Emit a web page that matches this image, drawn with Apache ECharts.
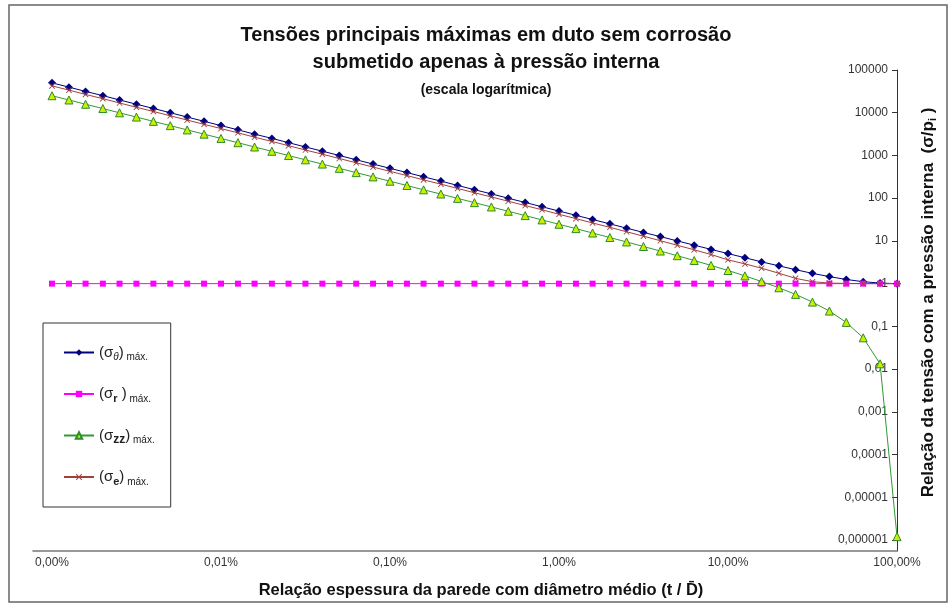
<!DOCTYPE html>
<html>
<head>
<meta charset="utf-8">
<script src="https://cdn.jsdelivr.net/npm/echarts@6/dist/echarts.min.js"></script>
<style>html,body{margin:0;padding:0;background:#fff}#c{width:950px;height:604px}</style>
</head>
<body>
<div id="c"></div>
<script>
// t/D (wall thickness / mean diameter)
const tD = [0.00001, 0.0000126, 0.0000158, 0.00002, 0.0000251, 0.0000316, 0.0000398, 0.0000501, 0.0000631, 0.0000794,
  0.0001, 0.000126, 0.000158, 0.0002, 0.000251, 0.000316, 0.000398, 0.000501, 0.000631, 0.000794,
  0.001, 0.00126, 0.00158, 0.002, 0.00251, 0.00316, 0.00398, 0.00501, 0.00631, 0.00794,
  0.01, 0.0126, 0.0158, 0.02, 0.0251, 0.0316, 0.0398, 0.0501, 0.0631, 0.0794,
  0.1, 0.126, 0.158, 0.2, 0.251, 0.316, 0.398, 0.501, 0.631, 0.794, 1];

const sigmaTheta = [50000, 39700, 31500, 25100, 19900, 15800, 12600, 9980, 7920, 6290,
  5000, 3970, 3150, 2510, 1990, 1580, 1260, 998, 792, 629,
  500, 397, 316, 251, 199, 158, 126, 99.8, 79.3, 62.9,
  50.0, 39.7, 31.6, 25.1, 19.9, 15.8, 12.6, 10.0, 7.96, 6.33,
  5.05, 4.04, 3.23, 2.61, 2.12, 1.74, 1.46, 1.25, 1.11, 1.03, 1.0];

const sigmaR = [1, 1, 1, 1, 1, 1, 1, 1, 1, 1,
  1, 1, 1, 1, 1, 1, 1, 1, 1, 1,
  1, 1, 1, 1, 1, 1, 1, 1, 1, 1,
  1, 1, 1, 1, 1, 1, 1, 1, 1, 1,
  1, 1, 1, 1, 1, 1, 1, 1, 1, 1, 1];

const sigmaZZ = [25000, 19860, 15770, 12530, 9950, 7910, 6280, 4990, 3960, 3150,
  2500, 1985, 1577, 1252, 995, 790, 628, 499, 396, 315,
  249.5, 198, 157, 125, 99.0, 78.6, 62.3, 49.4, 39.1, 31.0,
  24.5, 19.4, 15.3, 12.0, 9.46, 7.41, 5.79, 4.50, 3.48, 2.67,
  2.03, 1.52, 1.12, 0.80, 0.56, 0.37, 0.228, 0.124, 0.054, 0.0133, 0.0000012];

const sigmaE = [42500, 33800, 26800, 21300, 16900, 13400, 10700, 8480, 6730, 5350,
  4250, 3380, 2680, 2130, 1690, 1340, 1070, 848, 673, 535,
  425, 338, 268, 213, 169, 134, 107, 84.8, 67.3, 53.5,
  42, 33.2, 26.3, 20.8, 16.4, 12.9, 10.1, 7.9, 6.2, 4.8,
  3.6, 2.9, 2.3, 1.75, 1.33, 1.11, 1.03, 1.01, 1.0, 1.0, 1.0];

// axis tick values
const xTicks = [0.00001, 0.0001, 0.001, 0.01, 0.1, 1];
const yTicks = [0.000001, 0.00001, 0.0001, 0.001, 0.01, 0.1, 1, 10, 100, 1000, 10000, 100000];

const seriesNames = ['σθ', 'σr', 'σzz', 'σe'];
const legendRich = {
  'σθ': '{a|(σ}{b|θ}{a|)}{c| máx.}',
  'σr': '{a|(σ}{r|r}{a| )}{c| máx.}',
  'σzz': '{a|(σ}{z|zz}{a|)}{c| máx.}',
  'σe': '{a|(σ}{r|e}{a|)}{c| máx.}'
};

function pairs(ys) { return tD.map((x, i) => [x, ys[i]]); }
function isDecade(v) { const l = Math.log10(v); return Math.abs(l - Math.round(l)) < 0.01; }

const chart = echarts.init(document.getElementById('c'));
const FONT = '"Liberation Sans", Arial, sans-serif';
chart.setOption({
  backgroundColor: '#fff',
  animation: false,
  textStyle: { fontFamily: FONT },
  graphic: [{
    type: 'rect', silent: true,
    shape: { x: 9, y: 5, width: 938, height: 597 },
    style: { fill: 'none', stroke: '#666', lineWidth: 1.5 }
  }],
  title: [
    { text: 'Tensões principais máximas em duto sem corrosão', left: 481, top: 20, textAlign: 'center',
      textStyle: { fontSize: 20, fontWeight: 'bold', color: '#111', fontFamily: FONT } },
    { text: 'submetido apenas à pressão interna', left: 481, top: 47, textAlign: 'center',
      textStyle: { fontSize: 20, fontWeight: 'bold', color: '#111', fontFamily: FONT } },
    { text: '(escala logarítmica)', left: 481, top: 78, textAlign: 'center',
      textStyle: { fontSize: 14, fontWeight: 'bold', color: '#111', fontFamily: FONT } }
  ],
  grid: { left: 33, right: 53, top: 70, bottom: 53, containLabel: false, outerBoundsMode: 'none' },
  legend: {
    orient: 'vertical', left: 43, top: 323,
    data: seriesNames,
    itemGap: 24, itemWidth: 30, itemHeight: 8,
    borderColor: '#333', borderWidth: 1,
    padding: [22, 16, 20, 20],
    formatter: n => legendRich[n],
    textStyle: {
      rich: {
        a: { fontSize: 15, color: '#222', lineHeight: 20, verticalAlign: 'middle', fontFamily: FONT },
        b: { fontSize: 10, color: '#222', fontStyle: 'italic', lineHeight: 11, verticalAlign: 'bottom', fontFamily: FONT },
        r: { fontSize: 11, color: '#222', fontWeight: 'bold', lineHeight: 11, verticalAlign: 'bottom', fontFamily: FONT },
        z: { fontSize: 12, color: '#222', fontWeight: 'bold', lineHeight: 13, verticalAlign: 'bottom', fontFamily: FONT },
        c: { fontSize: 10, color: '#222', lineHeight: 10, verticalAlign: 'bottom', fontFamily: FONT }
      }
    }
  },
  xAxis: {
    type: 'log', logBase: 10, min: 0.00000772, max: 1,
    name: 'Relação espessura da parede com diâmetro médio (t / D̄)',
    nameLocation: 'middle', nameGap: 31,
    nameTextStyle: { fontSize: 16.5, fontWeight: 'bold', color: '#111', padding: [0, 0, 0, 32] },
    axisLine: { show: true, lineStyle: { color: '#777', width: 1.5 } },
    axisTick: { show: false, customValues: xTicks },
    splitLine: { show: false },
    minorTick: { show: false },
    axisLabel: {
      customValues: xTicks,
      fontSize: 12, color: '#333', margin: 6,
      formatter: v => (v * 100).toFixed(2).replace('.', ',') + '%'
    }
  },
  yAxis: {
    type: 'log', logBase: 10, min: 0.000000553, max: 100000,
    position: 'right',
    name: '{a|Relação da tensão com a pressão interna  (σ/p}{s|i}{a| )}',
    nameLocation: 'middle', nameGap: 21, nameRotate: 90,
    nameTextStyle: {
      padding: [0, 0, 0, 16],
      rich: {
        a: { fontSize: 17, fontWeight: 'bold', color: '#111', lineHeight: 20, fontFamily: FONT },
        s: { fontSize: 11, fontWeight: 'bold', color: '#111', lineHeight: 11, verticalAlign: 'bottom', fontFamily: FONT }
      }
    },
    axisLine: { show: true, lineStyle: { color: '#333', width: 1 } },
    axisTick: { show: true, inside: true, length: 5, lineStyle: { color: '#333' }, customValues: yTicks },
    splitLine: { show: false },
    axisLabel: {
      customValues: yTicks,
      inside: true, margin: 9, fontSize: 12, color: '#333',
      formatter: v => {
        const e = Math.round(Math.log10(v));
        if (e >= 0) return String(Math.pow(10, e));
        return '0,' + '0'.repeat(-e - 1) + '1';
      }
    }
  },
  series: [
    { name: 'σθ', type: 'line', data: pairs(sigmaTheta), symbol: 'diamond', symbolSize: 8,
      lineStyle: { color: '#000080', width: 1 }, itemStyle: { color: '#000080' } },
    { name: 'σr', type: 'line', data: pairs(sigmaR), symbol: 'rect', symbolSize: 6,
      lineStyle: { color: '#ff00ff', width: 1 }, itemStyle: { color: '#ff00ff' } },
    { name: 'σzz', type: 'line', data: pairs(sigmaZZ), symbol: 'triangle', symbolSize: 8,
      lineStyle: { color: '#339933', width: 1 },
      itemStyle: { color: '#ccee00', borderColor: '#2e8b2e', borderWidth: 1 } },
    { name: 'σe', type: 'line', data: pairs(sigmaE),
      symbol: 'path://M0,1L1,0L5,4L9,0L10,1L6,5L10,9L9,10L5,6L1,10L0,9L4,5Z', symbolSize: 6,
      lineStyle: { color: '#a0413a', width: 1 }, itemStyle: { color: '#a0413a' } }
  ]
});
</script>
</body>
</html>
